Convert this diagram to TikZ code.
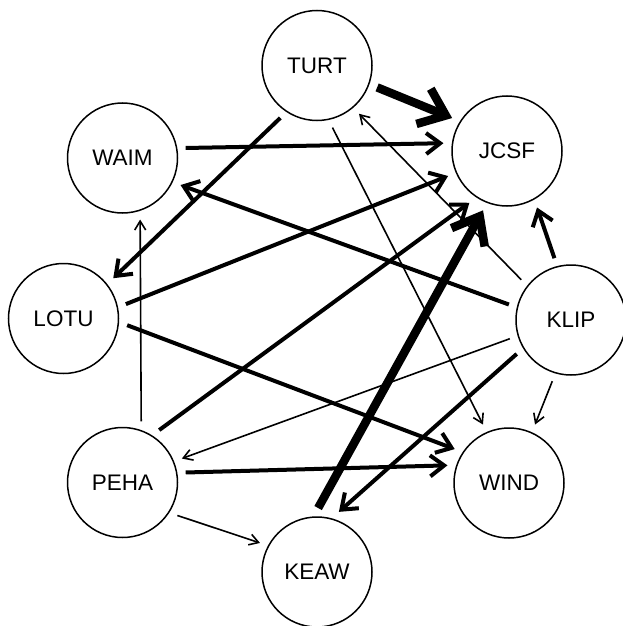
\documentclass[tikz,border=0pt]{standalone}
\usepackage{fontspec}
\setmainfont{Liberation Sans}
\usetikzlibrary{arrows.meta}
\begin{document}
\begin{tikzpicture}[x=1pt,y=-1pt,
  actor/.style={circle,draw,line width=1.5pt,minimum size=110pt,inner sep=0pt,outer sep=9pt,
    font=\fontsize{22.5}{26}\selectfont},
  thinE/.style={line width=1.6pt,-{Straight Barb[length=9pt,width=11pt]}},
  midE/.style={line width=4pt,-{Straight Barb[length=14pt,width=21pt]}},
  bigE/.style={line width=8.5pt,-{Straight Barb[length=24pt,width=38pt]}}]
\useasboundingbox (0,0) rectangle (622,626);
\node[actor] (turt) at (317,65.5) {TURT};
\node[actor] (jcsf) at (507,151) {JCSF};
\node[actor] (waim) at (122.5,158) {WAIM};
\node[actor] (lotu) at (63.5,318.5) {LOTU};
\node[actor] (klip) at (571,320) {KLIP};
\node[actor] (peha) at (122.5,482.5) {PEHA};
\node[actor] (wind) at (509,483) {WIND};
\node[actor] (keaw) at (317,572) {KEAW};
% edges
\draw[bigE] (turt.-20.5) -- (jcsf.149.8);
\draw[midE] (waim.9.3) -- (jcsf.173.4);
\draw[midE] (turt.235.5) -- (lotu.39.6);
\draw[thinE] (klip.141.8) -- (turt.-49);
\draw[thinE] (turt.-76.8) -- (wind.114.6);
\draw[midE] (lotu.13.7) -- (jcsf.203.5);
\draw[midE] (peha.55.2) -- (jcsf.234.8);
\draw[bigE] (keaw.89) -- (jcsf.248.4);
\draw[midE] (klip.166.9) -- (waim.-25.8);
\draw[midE] (klip.105.8) -- (jcsf.-62.6);
\draw[midE] (lotu.-6.8) -- (wind.148.1);
\draw[thinE] (klip.197.4) -- (peha.22.4);
\draw[midE] (klip.212) -- (keaw.70.4);
\draw[thinE] (klip.253.1) -- (wind.66.3);
\draw[thinE] (peha.73.7) -- (waim.-74.4);
\draw[midE] (peha.9.3) -- (wind.164.7);
\draw[thinE] (peha.-31.8) -- (keaw.153);
\end{tikzpicture}
\end{document}
